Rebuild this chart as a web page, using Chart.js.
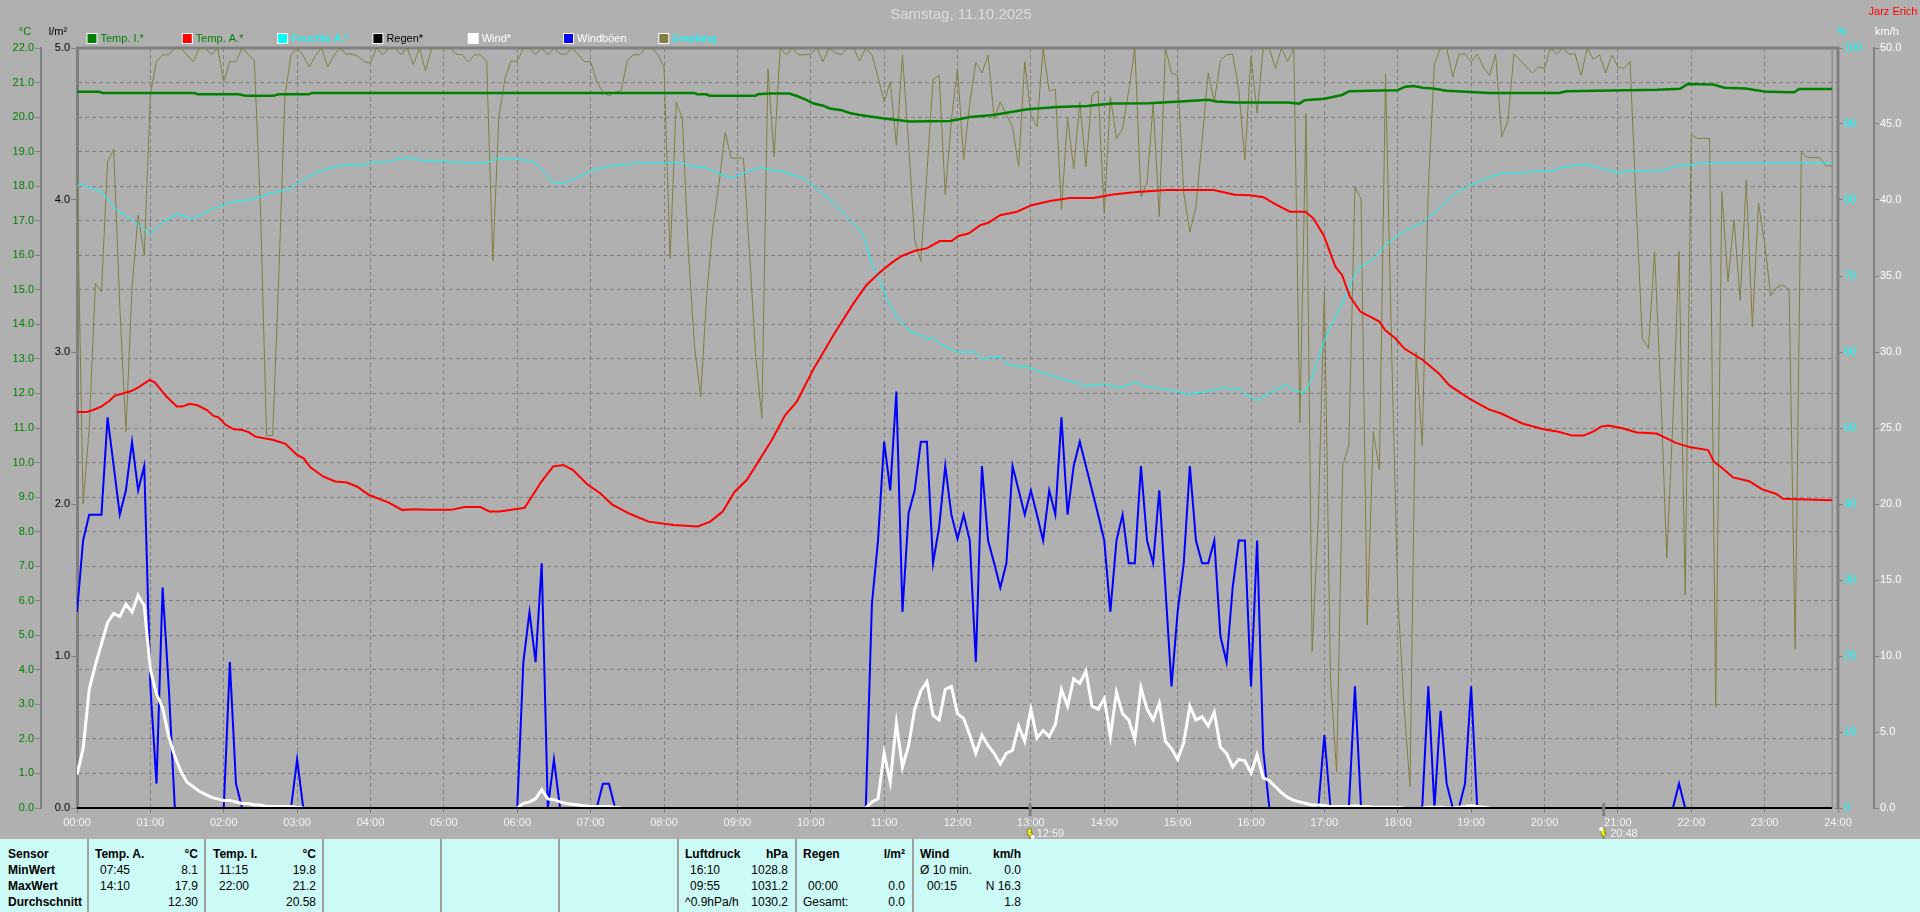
<!DOCTYPE html>
<html><head><meta charset="utf-8"><title>Samstag, 11.10.2025</title>
<script src="https://cdn.jsdelivr.net/npm/chart.js@4"></script>
<style>
html,body{margin:0;padding:0;background:#b0b0b0;overflow:hidden}
#wrap{position:relative;width:1920px;height:912px;overflow:hidden}
canvas{position:absolute;left:0;top:0}
#panel{position:absolute;left:0;top:839px;width:1920px;height:73px;background:#ccfaf6}
#panel i{position:absolute;top:0;width:2px;height:73px;background:#a0a0a0}
#panel span{position:absolute;font:12px "Liberation Sans",sans-serif;color:#000;line-height:14px;white-space:pre}
#panel span.b{font-weight:bold}
</style></head><body>
<div id="wrap"><canvas id="c" width="1920" height="912"></canvas><div id="panel"></div></div>
<script>
const titleText = "Samstag, 11.10.2025";
const ownerText = "Jarz Erich";
const eventTimes = [12.983, 20.8];
const eventLabels = ["12:59", "20:48"];

const tempITimes = [0,.3,.35,1.59,1.65,2.2,2.3,2.68,2.75,3.16,3.2,8.42,8.45,8.58,8.62,9.25,9.28,9.43,9.71,9.81,9.94,10.03,10.17,10.26,10.42,10.53,10.67,11,11.35,11.9,12.17,12.49,12.95,13.36,13.77,14.1,14.6,15.1,15.42,15.53,15.78,16.5,16.66,16.73,17,17.24,17.34,17.8,18,18.1,18.22,18.34,18.48,18.67,19.25,20.2,20.3,21.54,21.85,21.95,22.3,22.45,22.74,23.03,23.4,23.47,23.92];
const tempIValues = [20.73,20.73,20.7,20.7,20.66,20.66,20.62,20.62,20.66,20.66,20.7,20.7,20.66,20.66,20.62,20.62,20.66,20.68,20.68,20.61,20.5,20.4,20.33,20.25,20.2,20.12,20.06,19.96,19.87,19.89,20,20.06,20.23,20.29,20.32,20.39,20.4,20.46,20.5,20.45,20.42,20.42,20.39,20.49,20.53,20.64,20.75,20.77,20.78,20.88,20.9,20.85,20.83,20.76,20.7,20.7,20.75,20.79,20.82,20.96,20.94,20.85,20.83,20.73,20.72,20.81,20.81];

const tempATimes = [0,.13,.22,.33,.445,.51,.74,.83,.99,1.06,1.22,1.36,1.43,1.54,1.65,1.77,1.86,1.93,2.02,2.13,2.25,2.34,2.43,2.68,2.84,3,3.09,3.18,3.36,3.52,3.68,3.82,3.98,4.25,4.43,4.6,4.78,5.1,5.28,5.5,5.62,5.76,6.1,6.33,6.49,6.63,6.76,6.96,7.13,7.29,7.54,7.79,8.13,8.46,8.63,8.8,8.96,9.13,9.47,9.65,9.81,10.03,10.31,10.58,10.76,10.94,11.1,11.24,11.42,11.58,11.76,11.92,12.01,12.15,12.31,12.42,12.58,12.81,13.01,13.26,13.53,13.85,14.12,14.44,14.85,15.49,15.78,15.99,16.17,16.33,16.53,16.74,16.85,16.99,17.15,17.24,17.35,17.49,17.75,17.83,17.97,18.09,18.34,18.56,18.7,18.97,19.24,19.41,19.7,19.97,20.19,20.38,20.53,20.67,20.77,20.87,21.06,21.26,21.53,21.79,21.99,22.23,22.31,22.4,22.57,22.79,22.96,23.16,23.25,23.92];
const tempAValues = [11.46,11.46,11.52,11.62,11.79,11.93,12.07,12.17,12.39,12.32,11.91,11.62,11.62,11.7,11.65,11.52,11.35,11.31,11.1,10.97,10.94,10.88,10.75,10.65,10.54,10.22,10.12,9.86,9.59,9.45,9.42,9.3,9.06,8.84,8.63,8.65,8.63,8.63,8.71,8.71,8.58,8.58,8.69,9.45,9.89,9.93,9.78,9.36,9.11,8.79,8.51,8.29,8.19,8.15,8.29,8.58,9.15,9.5,10.65,11.37,11.76,12.68,13.69,14.6,15.14,15.5,15.78,15.98,16.13,16.2,16.41,16.41,16.56,16.63,16.87,16.94,17.16,17.26,17.45,17.57,17.66,17.66,17.76,17.83,17.89,17.89,17.75,17.74,17.68,17.48,17.26,17.26,17.07,16.58,15.67,15.43,14.8,14.37,14.08,13.83,13.59,13.3,12.97,12.58,12.24,11.86,11.54,11.42,11.13,10.97,10.89,10.78,10.78,10.9,11.04,11.07,10.99,10.87,10.84,10.57,10.44,10.36,10.02,9.88,9.57,9.46,9.23,9.09,8.95,8.91];

const humidityTimes = [0,.1,.34,.52,.75,1,1.17,1.38,1.56,1.85,2.09,2.32,2.69,2.92,3,3.26,3.57,3.94,4.02,4.22,4.48,4.69,5.03,5.08,5.58,5.74,5.89,6.18,6.28,6.49,6.65,6.81,7.01,7.28,7.54,7.59,7.81,8.26,8.33,8.53,8.76,8.93,9.12,9.33,9.44,9.63,9.9,10.08,10.31,10.49,10.67,10.74,10.83,10.94,11.03,11.17,11.35,11.51,11.58,11.67,11.76,11.99,12.24,12.33,12.58,12.67,12.99,13.25,13.49,13.76,14,14.12,14.24,14.42,14.58,14.87,15.15,15.4,15.6,15.85,15.92,16.1,16.3,16.39,16.49,16.58,16.73,16.83,17,17.24,17.39,17.49,17.68,17.83,17.98,18.17,18.34,18.48,18.65,18.78,18.95,19.21,19.41,19.8,20.14,20.24,20.55,20.77,20.99,21.16,21.65,21.75,22.13,23.92];
const humidityValues = [81.9,81.9,81,78.8,77.4,75.5,77.1,78.2,77.5,78.8,79.7,79.9,81,81.5,82.2,83.6,84.5,84.7,85,85,85.6,85.2,85.2,85,84.9,85.5,85.4,85.2,84.6,82.3,82.3,82.9,83.9,84.5,84.7,85,84.9,84.9,84.5,84.4,83.4,82.9,83.7,84.3,84,83.7,82.9,81.5,79.6,77.8,76.1,74.7,71.7,69.5,67.1,64.6,62.7,62.2,61.6,61.9,61.1,60,60,59.1,59.4,58.4,57.9,57,56.3,55.5,55.8,55.5,55.35,56,55.4,55.1,54.4,54.8,55.3,55.1,54.4,53.6,54.9,55.2,55.66,54.9,54.65,56.5,61.6,66.4,69.7,71.2,72.3,74.1,75.2,76.3,77,78.2,79.6,80.9,81.75,82.9,83.5,83.7,83.9,84.3,84.7,84.2,83.6,83.8,83.95,84.4,84.8,84.9];

const rainTimes = [0,23.92];
const rainValues = [0,0];

// five-minute samples, one row per hour
const windValues = [
2.2,3.9,7.8,9.4,10.8,12.2,12.8,12.6,13.4,12.9,14,13.3,
9.1,7.5,6.6,4.7,3.4,2.4,1.7,1.4,1.1,.9,.7,.6,
.5,.5,.4,.3,.3,.2,.2,.1,.1,.1,.1,.1,
.05,0,0,0,0,0,0,0,0,0,0,0,
0,0,0,0,0,0,0,0,0,0,0,0,
0,0,0,0,0,0,0,0,0,0,0,0,
0,.3,.4,.6,1.2,.6,.55,.4,.3,.25,.2,.15,
.1,.1,.1,.1,.05,0,0,0,0,0,0,0,
0,0,0,0,0,0,0,0,0,0,0,0,
0,0,0,0,0,0,0,0,0,0,0,0,
0,0,0,0,0,0,0,0,0,0,.4,.6,
3.6,1.7,5.6,2.7,4.1,6.5,7.7,8.3,6.1,5.8,7.8,8,
6.2,5.9,4.8,3.6,4.8,4.1,3.6,2.9,3.6,3.8,5.4,4.4,
6.5,4.6,5.1,4.7,5.5,7.8,6.7,8.5,8.2,9,6.7,6.5,
7.2,4.7,7.6,6.2,5.8,4.5,7.9,6.5,5.8,6.9,4.4,3.9,
3.2,4.3,6.7,5.8,6,5.4,6.3,4,3.6,2.7,3.2,3.1,
2.3,3.5,2,1.8,1.4,1,.7,.5,.4,.3,.2,.2,
.15,.1,.1,.1,.1,.15,.1,.1,.05,.05,.05,.05,
.05,0,0,0,0,.05,.05,.05,0,0,.05,.1,
.15,.1,.05,0,0,0,0,0,0,0,0,0,
0,0,0,0,0,0,0,0,0,0,0,0,
0,0,0,0,0,0,0,0,0,0,0,0,
0,0,0,0,0,0,0,0,0,0,0,0,
0,0,0,0,0,0,0,0,0,0,0,0];

const gustValues = [
12.9,17.6,19.3,19.3,19.3,25.7,22.5,19.3,20.9,24.1,20.9,22.5,
8,1.6,14.5,8,0,0,0,0,0,0,0,0,
0,9.6,1.6,0,0,0,0,0,0,0,0,0,
3.2,0,0,0,0,0,0,0,0,0,0,0,
0,0,0,0,0,0,0,0,0,0,0,0,
0,0,0,0,0,0,0,0,0,0,0,0,
0,9.6,12.9,9.6,16.1,0,3.2,0,0,0,0,0,
0,0,1.6,1.6,0,0,0,0,0,0,0,0,
0,0,0,0,0,0,0,0,0,0,0,0,
0,0,0,0,0,0,0,0,0,0,0,0,
0,0,0,0,0,0,0,0,0,0,13.4,17.6,
24.1,20.9,27.4,12.9,19.4,20.9,24.1,24.1,16.1,18.5,22.5,19.3,
17.7,19.3,17.6,9.6,22.5,17.6,16.1,14.5,16.1,22.5,20.9,19.3,
20.9,19.3,17.6,20.9,19.3,25.7,19.3,22.5,24.1,22.5,20.9,19.3,
17.6,12.9,17.6,19.3,16.1,16.1,22.5,17.6,16.1,20.9,14.5,8,
12.9,16.1,22.5,17.6,16.1,16.1,17.6,11.3,9.6,14.5,17.6,17.6,
8,17.6,3.8,0,0,0,0,0,0,0,0,0,
4.8,0,0,0,0,8,0,0,0,0,0,0,
0,0,0,0,0,8,0,6.4,1.6,0,0,1.6,
8,0,0,0,0,0,0,0,0,0,0,0,
0,0,0,0,0,0,0,0,0,0,0,0,
0,0,0,0,0,0,0,0,0,0,1.6,0,
0,0,0,0,0,0,0,0,0,0,0,0,
0,0,0,0,0,0,0,0,0,0,0,0];

const receptionValues = [
83.5,40,50,69,67.9,85,86.7,66,49.5,68.6,78,72.8,
94,98.2,99.1,99.1,100,100,99.1,98.2,100,100,99.1,100,
95.6,98.2,98.2,100,99.2,98.4,79,49,49,70,93.6,99.1,
100,99,97.5,99,100,97.5,99,100,99.2,99.2,98.9,98.2,
98,100,99.1,100,100,99.1,100,97.8,100,97,100,100,
100,100,99.2,99.1,98.2,99.1,99.1,98.2,72,91,96,98.3,
98.2,100,100,99.1,100,99.1,100,99.2,99.2,100,99.1,98.2,
98.2,95.6,94.2,93.7,94.2,94.4,98.4,99.1,99.1,100,100,99.1,
97.5,72.3,92.9,90.7,73,60.7,54.1,67.7,76.5,82.2,88.9,85.5,
85.5,85.5,72.9,59.4,51.3,97.3,85.7,100,99.1,100,99.1,99.1,
99.2,100,98.2,100,99.4,99.1,100,100,98.3,100,99.1,96.2,
92.9,95.6,87.2,99.1,87.4,74.7,71.9,83.5,95.8,96.4,80.7,90.5,
97.3,85.3,92.7,98.1,96.7,99.1,90.7,92.9,91.2,89.6,84.4,98.2,
91.2,89.6,100,94.3,94.6,78.7,90.9,84.1,92.9,84.4,93.8,94.4,
78.2,93.6,88.1,89.4,94.3,100,80.4,82.2,92.7,77.8,100,96.7,
96.4,80.9,75.8,79.1,87.9,96.7,92.9,98.4,99.1,99.2,94.5,85.3,
98.9,91.4,100,100,97.3,100,98.2,100,50.7,91.4,20.6,38,
68.1,17,4.7,45.1,47.7,81.8,80.1,24.1,49.5,44.5,96.6,60.3,
28,13.8,2.8,60,47.7,81.7,97.9,100,100,96.2,99.2,99.2,
98.2,99.2,97.5,96.4,99.2,88.3,90.4,99.2,98.4,97.5,96.7,97.5,
97.3,100,99.2,100,99.2,99.2,96.4,100,98.5,99.1,96.7,99.1,
97.5,97.3,98.2,79.1,61.8,60.5,73.2,55,32.9,51,73.2,28,
88.6,88.1,88.1,88.1,13.3,81.1,69.3,77.4,66.8,82.6,63.3,79.6,
74.3,67.4,68.5,68.8,68.2,20.9,86.3,85.6,85.6,85.6,84.5,84.5];

const nowMarkerTimes = [23.92,23.92];
const nowMarkerValues = [0,100];

const legendNames = ["Temp. I.*","Temp. A.*","Feuchte A.*","Regen*","Wind*","Windböen","Empfang"];
const legendSwatch = ["#008000","#ff0000","#00ffff","#000000","#ffffff","#0000ff","#808040"];
const legendText  = ["#008000","#008000","#00ffff","#000000","#ffffff","#ffffff","#00ffff"];

const UI = '"Liberation Sans",sans-serif';
const zip = (t,v)=>t.map((x,i)=>({x,y:v[i]}));
// a run of calm samples draws nothing; only the foot of each gust touches the axis
const fiveMin = v=>v.map((y,i)=>({x:i*5/60, y:(y===0 && !v[i-1] && !v[i+1])?null:y}));

const frameColor = "#808080";
const lineSet = (label,data,color,width,yAxisID,extra)=>Object.assign({label,data,borderColor:color,backgroundColor:color,borderWidth:width,yAxisID,xAxisID:"x",pointRadius:0,tension:0,fill:false,spanGaps:false,borderJoinStyle:"miter"},extra||{});

const sidePlugin = {
  id:"side",
  beforeDatasetsDraw(ch){
    const {ctx,chartArea:a}=ch;
    ctx.save();
    ctx.strokeStyle=frameColor;ctx.lineWidth=3;
    ctx.beginPath();ctx.moveTo(a.left-1,a.top);ctx.lineTo(a.right,a.top);ctx.lineTo(a.right,a.bottom);ctx.stroke();
    ctx.restore();
  },
  afterDraw(ch){
    const {ctx,scales:s}=ch;
    ctx.save();
    ctx.textBaseline="middle";
    ctx.textAlign="center";
    ctx.fillStyle="#dcdcdc";ctx.font='15px '+UI;ctx.fillText(titleText,961,15);
    ctx.fillStyle="#ff0000";ctx.font='11px '+UI;ctx.fillText(ownerText,1893,12);
    ctx.fillStyle="#008000";ctx.fillText("°C",25,32);
    ctx.fillStyle="#000";ctx.fillText("l/m²",58,32);
    ctx.fillStyle="#00ffff";ctx.fillText("%",1842,32);
    ctx.fillStyle="#ffffff";ctx.fillText("km/h",1887,32);
    // legend
    ctx.textAlign="left";
    legendNames.forEach((n,i)=>{
      const x=86.5+95.3*i;
      ctx.fillStyle="#ffffff";ctx.fillRect(x,33,11,11);
      ctx.fillStyle=legendSwatch[i];ctx.fillRect(x+1,34,9,9);
      ctx.fillStyle=legendText[i];ctx.fillText(n,x+14,38.5);
    });
    // event marks under the time axis
    eventTimes.forEach((t,i)=>{
      const x=s.x.getPixelForValue(t);
      ctx.fillStyle=frameColor;ctx.fillRect(x-1,803,3,13);
      ctx.fillStyle="#ffff00";ctx.strokeStyle="#404000";ctx.lineWidth=.5;
      ctx.beginPath();ctx.moveTo(x-2,829);ctx.lineTo(x+2,829);ctx.lineTo(x+1,833);ctx.lineTo(x+3,833);ctx.lineTo(x,839);ctx.lineTo(x,835);ctx.lineTo(x-2,835);ctx.closePath();ctx.fill();ctx.stroke();
      ctx.fillStyle="#ffffff";ctx.beginPath();ctx.arc(x+(i?-2:3),i?829:837,2,0,7);ctx.fill();
      ctx.fillStyle="#f4f4f4";ctx.font='11px '+UI;ctx.fillText(eventLabels[i],x+7,833.5);
    });
    ctx.restore();
  }
};

new Chart(document.getElementById("c"),{
  type:"line",
  data:{datasets:[
    lineSet("Temp. I.",zip(tempITimes,tempIValues),"#008000",2.5,"temp"),
    lineSet("Temp. A.",zip(tempATimes,tempAValues),"#ff0000",2,"temp"),
    lineSet("Feuchte A.",zip(humidityTimes,humidityValues),"#00ffff",1,"hum"),
    lineSet("Regen",zip(rainTimes,rainValues),"#000000",2,"rain",{order:-1,clip:false}),
    lineSet("Wind",fiveMin(windValues),"#ffffff",3,"wind"),
    lineSet("Windböen",fiveMin(gustValues),"#0000ff",2,"wind"),
    lineSet("Empfang",receptionValues.map((y,i)=>({x:i*5/60,y})),"#808040",1,"hum"),
    lineSet("Ende",zip(nowMarkerTimes,nowMarkerValues),"#808080",1,"hum")
  ]},
  options:{
    responsive:false,animation:false,devicePixelRatio:1,parsing:false,
    layout:{padding:{top:48,left:0,right:0,bottom:0}},
    plugins:{legend:{display:false},title:{display:false},tooltip:{enabled:false}},
    scales:{
      x:{type:"linear",position:"bottom",min:0,max:24,
        afterFit(s){s.height=104},
        afterBuildTicks(s){s.ticks=Array.from({length:25},(_,i)=>({value:i}))},
        ticks:{autoSkip:false,maxRotation:0,minRotation:0,padding:3,color:"#f4f4f4",font:{family:UI,size:11},
          callback:v=>String(v).padStart(2,"0")+":00"},
        grid:{color:"#808080",tickLength:5,tickColor:"#808080",tickBorderDash:[]},
        border:{display:false,dash:[4,3]}},
      temp:{type:"linear",position:"left",weight:2,min:0,max:22,
        afterFit(s){s.width=41},
        ticks:{stepSize:1,autoSkip:false,padding:1,color:"#008000",font:{family:UI,size:11},callback:v=>v.toFixed(1)},
        grid:{color:"#808080",tickLength:6,tickColor:"#808080",tickBorderDash:[]},
        border:{display:true,color:"#808080",width:2,dash:[4,3]}},
      rain:{type:"linear",position:"left",weight:1,min:0,max:5,
        afterFit(s){s.width=36},
        ticks:{stepSize:1,autoSkip:false,padding:1,color:"#000000",font:{family:UI,size:11},callback:v=>v.toFixed(1)},
        grid:{drawOnChartArea:false,tickLength:6,tickColor:"#808080"},
        border:{display:true,color:"#808080",width:3}},
      hum:{type:"linear",position:"right",weight:1,min:0,max:100,
        afterFit(s){s.width=36},
        ticks:{stepSize:10,autoSkip:false,padding:1,color:"#00ffff",font:{family:UI,size:11},callback:v=>String(v)},
        grid:{drawOnChartArea:false,tickLength:5,tickColor:"#808080"},
        border:{display:false}},
      wind:{type:"linear",position:"right",weight:2,min:0,max:50,
        afterFit(s){s.width=46},
        ticks:{stepSize:5,autoSkip:false,padding:1,color:"#ffffff",font:{family:UI,size:11},callback:v=>v.toFixed(1)},
        grid:{drawOnChartArea:false,tickLength:5,tickColor:"#808080"},
        border:{display:true,color:"#808080",width:2}}
    }
  },
  plugins:[sidePlugin]
});

// summary panel under the chart
const panel=document.getElementById("panel");
[88,205,323,441,559,678,796,913].forEach(x=>{const d=document.createElement("i");d.style.left=(x-1)+"px";panel.appendChild(d);});
const rowTop=[8,24,40,56];
const cell=(txt,x,row,bold,right)=>{const s=document.createElement("span");s.textContent=txt;if(bold)s.className="b";
  s.style.top=rowTop[row]+"px";if(right){s.style.right=(1920-x)+"px";}else{s.style.left=x+"px";}panel.appendChild(s);};
["Sensor","MinWert","MaxWert","Durchschnitt"].forEach((t,i)=>cell(t,8,i,true));
cell("Temp. A.",95,0,true);cell("°C",198,0,true,true);cell("07:45",100,1);cell("8.1",198,1,false,true);cell("14:10",100,2);cell("17.9",198,2,false,true);cell("12.30",198,3,false,true);
cell("Temp. I.",213,0,true);cell("°C",316,0,true,true);cell("11:15",219,1);cell("19.8",316,1,false,true);cell("22:00",219,2);cell("21.2",316,2,false,true);cell("20.58",316,3,false,true);
cell("Luftdruck",685,0,true);cell("hPa",788,0,true,true);cell("16:10",690,1);cell("1028.8",788,1,false,true);cell("09:55",690,2);cell("1031.2",788,2,false,true);cell("^0.9hPa/h",685,3);cell("1030.2",788,3,false,true);
cell("Regen",803,0,true);cell("l/m²",905,0,true,true);cell("00:00",808,2);cell("0.0",905,2,false,true);cell("Gesamt:",803,3);cell("0.0",905,3,false,true);
cell("Wind",920,0,true);cell("km/h",1021,0,true,true);cell("Ø 10 min.",920,1);cell("0.0",1021,1,false,true);cell("00:15",927,2);cell("N 16.3",1021,2,false,true);cell("1.8",1021,3,false,true);
</script>
</body></html>
